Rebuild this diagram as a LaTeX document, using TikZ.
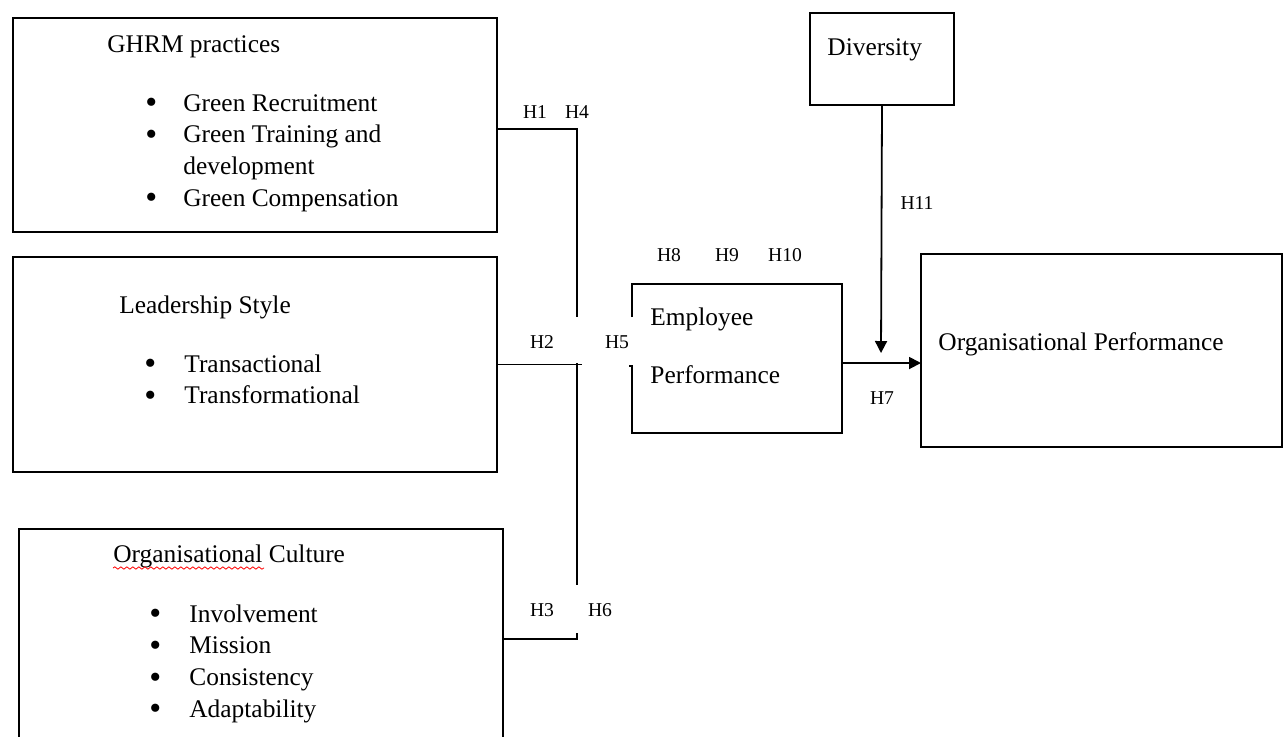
\documentclass[tikz,border=0pt]{standalone}
\usepackage{fontspec}
\setmainfont{Liberation Serif}
\usetikzlibrary{arrows.meta,decorations.pathmorphing}

\newcommand{\boxfont}{\fontsize{12.7}{15.9}\selectfont}
\newcommand{\labfont}{\fontsize{9.8}{11}\selectfont}
\newcommand{\blt}{\raisebox{-1.2pt}{\fontsize{17}{15.9}\selectfont\textbullet}}

\tikzset{
    blockbox/.style={draw, line width=1pt, inner sep=0pt, outer sep=0pt, anchor=north west},
    boxtext/.style={anchor=base west, inner sep=0pt, font=\boxfont},
    hlabel/.style={inner sep=0pt, font=\labfont},
    link/.style={line width=0.85pt},
    arr/.style={line width=0.9pt, -{Triangle[length=6pt,width=6pt]}}
}

\begin{document}
\begin{tikzpicture}[x=0.5pt, y=-0.5pt]
    \useasboundingbox (0,0) rectangle (1288,736);

    % boxes
    \node[blockbox, minimum width=242pt, minimum height=107pt] (ghrm) at (13,18) {};
    \node[blockbox, minimum width=242pt, minimum height=107.5pt] (lead) at (13,257) {};
    \node[blockbox, minimum width=242pt, minimum height=110pt] (cult) at (19,529) {};
    \node[blockbox, minimum width=72pt, minimum height=46pt] (div) at (810,13) {};
    \node[blockbox, minimum width=180.5pt, minimum height=96.5pt] (org) at (921,254) {};
    \node[blockbox, draw=none, minimum width=105pt, minimum height=74.5pt] (emp) at (632,284) {};
    \draw[line width=1pt] ([yshift=-16.5pt]emp.north west) -- (emp.north west) -- (emp.north east)
        -- (emp.south east) -- (emp.south west) -- ([yshift=-41pt]emp.north west) -- ++(-3,0);

    % texts
    \node[boxtext] (ghrmtitle) at (107,52) {GHRM practices};
    \node[boxtext] (ghrmlist) at (145,111) {\begin{tabular}[t]{@{}p{19pt}@{}l@{}}
        \blt & Green Recruitment\\
        \blt & Green Training and\\
             & development\\
        \blt & Green Compensation
    \end{tabular}};
    \node[boxtext] (leadtitle) at (119,313) {Leadership Style};
    \node[boxtext] (leadlist) at (144,372) {\begin{tabular}[t]{@{}p{20pt}@{}l@{}}
        \blt & Transactional\\
        \blt & Transformational
    \end{tabular}};
    \node[boxtext] (culttitle) at (113,562) {Organisational Culture};
    \draw[red, line width=0.4pt, decorate, decoration={snake, amplitude=0.6pt, segment length=3pt}]
        (113,568) -- (264,568);
    \node[boxtext] (cultlist) at (149,622) {\begin{tabular}[t]{@{}p{20pt}@{}l@{}}
        \blt & Involvement\\
        \blt & Mission\\
        \blt & Consistency\\
        \blt & Adaptability
    \end{tabular}};
    \node[boxtext] (divtext) at (827,55) {Diversity};
    \node[boxtext] (emptext) at (650,325) {Employee};
    \node[boxtext] (perftext) at (650,383) {Performance};
    \node[boxtext] (orgtext) at (938,350) {Organisational Performance};

    % connectors
    \coordinate (ghrmEnd) at (577,317);
    \coordinate (leadEnd) at (582,363);
    \coordinate (vTop) at (577,363);
    \coordinate (vBot) at (577,585);
    \coordinate (cultEnd) at (577,633);
    \coordinate (divEnd) at (881,353);
    \draw[link] ([yshift=-2pt]ghrm.east) -| (ghrmEnd);
    \draw[link, line width=0.6pt] (lead.east) -- (lead.east -| leadEnd);
    \draw[link] (vTop) -- (vBot);
    \draw[link] (cult.east) -| (cultEnd);
    \draw[arr] ([yshift=-2.25pt]emp.east) -- ([yshift=-2.25pt]emp.east -| org.west);
    \draw[arr] (div.south) -- (divEnd);

    % hypothesis labels
    \node[hlabel] (h1) at (535,112) {H1};
    \node[hlabel] (h4) at (577,112) {H4};
    \node[hlabel] (h2) at (542,342) {H2};
    \node[hlabel] (h5) at (617,342) {H5};
    \node[hlabel] (h3) at (542,610) {H3};
    \node[hlabel] (h6) at (600,610) {H6};
    \node[hlabel] (h8) at (669,255) {H8};
    \node[hlabel] (h9) at (727,255) {H9};
    \node[hlabel] (h10) at (785,255) {H10};
    \node[hlabel] (h7) at (882,398) {H7};
    \node[hlabel] (h11) at (917,203) {H11};
\end{tikzpicture}
\end{document}
